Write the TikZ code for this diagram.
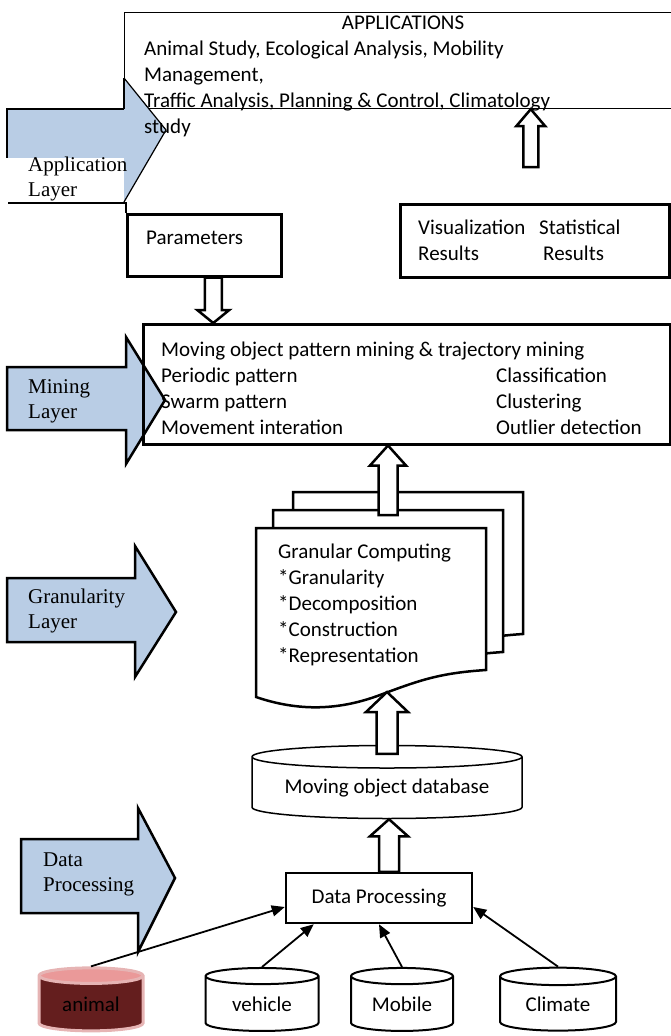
\documentclass[tikz,border=0pt]{standalone}
\usepackage{fontspec}
\setmainfont{Carlito}
\newfontfamily\timesfont{Liberation Serif}
\usetikzlibrary{shapes.geometric, arrows.meta, calc}
\definecolor{layerblue}{HTML}{B9CDE5}
\definecolor{animalred}{HTML}{641E1E}
\definecolor{animalpink}{HTML}{E6B4B4}
\tikzstyle{box} = [rectangle, draw=black, line width=2.5pt, inner sep=0pt, font=\fontsize{21}{26}\selectfont]
\tikzstyle{appbox} = [rectangle, draw=black, line width=1.2pt, inner sep=0pt, anchor=north west]
\tikzstyle{txt} = [anchor=base west, inner sep=0pt, align=left, font=\fontsize{21}{26}\selectfont]
\tikzstyle{laytxt} = [anchor=base west, inner sep=0pt, align=left, font=\timesfont\fontsize{21}{25}\selectfont]
\tikzstyle{layer} = [draw=black, line width=2.5pt, fill=layerblue]
\tikzstyle{page} = [draw=black, line width=2.5pt, fill=white]
\tikzstyle{fat} = [draw=black, line width=2.5pt, fill=white]
\tikzstyle{drum} = [cylinder, shape border rotate=90, draw=black, line width=2pt, fill=white, aspect=0.27, minimum height=63pt, inner sep=0pt, font=\fontsize{21}{26}\selectfont]
\tikzstyle{arrow} = [line width=1.8pt, -{Triangle[length=13pt, width=11pt]}]
% hollow block arrow: tail, tip, half shaft, half head, head length
\newcommand{\fatarrow}[5]{%
  \coordinate (fa-b) at ($(#2)!#5!(#1)$);
  \draw[fat] ($(#1)!#3!90:(#2)$) -- ($(fa-b)!#3!90:(#2)$) -- ($(fa-b)!#4!90:(#2)$) -- (#2)
    -- ($(fa-b)!#4!-90:(#2)$) -- ($(fa-b)!#3!-90:(#2)$) -- ($(#1)!#3!-90:(#2)$) -- cycle;
}

\begin{document}
\begin{tikzpicture}[x=1pt, y=1pt]
\useasboundingbox (0,0) rectangle (670,-1036);

% application layer
\node (apps) [appbox, minimum width=556pt, minimum height=96pt] at (124,-12) {};
\fill[layerblue] (7,-109) -- (124,-109) -- (124,-78) -- (166,-130) -- (124,-202) -- (124,-172) -- (7,-172) -- cycle;
\draw[line width=1.2pt] (7,-172) -- (7,-109) -- (124,-109);
\draw[line width=2.5pt] (124,-109) -- (124,-78);
\draw[line width=1.2pt] (124,-78) -- (166,-130) -- (124,-202);
\fill[white] (6,-158) rectangle (124,-200);
\node (applbl) [laytxt] at (28,-196) {Application\\Layer};
\node (apptitle) [txt, anchor=base] at (403,-29) {APPLICATIONS};
\node (applist) [txt] at (144,-133) {Animal Study, Ecological Analysis, Mobility\\Management,\\Traffic Analysis, Planning \& Control, Climatology\\study};

\node (params) [box, anchor=north west, minimum width=154pt, minimum height=62pt] at (126,-213) {};
\node (partxt) [txt] at ([xshift=20pt,yshift=-31pt]params.north west) {Parameters};
\draw[line width=2.5pt] (8,-203) -| (params.north west);

\node (vis) [box, anchor=north west, minimum width=269pt, minimum height=73pt] at (399,-203) {};
\node (vistxt) [txt] at ([xshift=19pt,yshift=-57pt]vis.north west) {Visualization\\Results};
\node (stattxt) [txt] at ([xshift=140pt,yshift=-57pt]vis.north west) {Statistical\\\hspace{4pt}Results};

% mining layer
\draw[layer] (7,-367) -- (126,-367) -- (126,-337) -- (165,-400) -- (126,-464) -- (126,-430) -- (7,-430) -- cycle;
\node (minelbl) [laytxt] at (28,-418) {Mining\\Layer};
\node (mining) [box, anchor=north west, minimum width=527pt, minimum height=120pt] at (142,-323) {};
\node (minetxt) [txt] at ([xshift=19pt,yshift=-111pt]mining.north west) {Moving object pattern mining \& trajectory mining\\Periodic pattern\\Swarm pattern\\Movement interation};
\node (methtxt) [txt] at ([xshift=354pt,yshift=-111pt]mining.north west) {Classification\\Clustering\\Outlier detection};

% granularity layer
\draw[layer] (7,-578) -- (135,-578) -- (135,-546) -- (176,-612) -- (135,-677) -- (135,-642) -- (7,-642) -- cycle;
\node (granlbl) [laytxt] at (28,-628) {Granularity\\Layer};
\foreach \dx/\dy in {37/36, 17/18, 0/0}
  \draw[page, shift={(\dx,\dy)}] (256,-528) -- (486,-528) -- (486,-670) .. controls (440,-673) and (420,-680) .. (380,-695) .. controls (340,-710) and (300,-712) .. (256,-697) -- cycle;
\node (gran) [txt] at (278,-662) {Granular Computing\\*Granularity\\*Decomposition\\*Construction\\*Representation};
\coordinate (doctop) at (388,-515);
\coordinate (docbot) at (388,-692);

% database and data processing
\node (db) [drum, line width=1.5pt, minimum width=270pt, minimum height=73pt, aspect=0.11] at (387,-788) {Moving object database};
\node (dp) [box, minimum width=186pt, minimum height=50pt] at (379,-898) {Data Processing};
\draw[layer] (21,-839) -- (138,-839) -- (138,-808) -- (175,-878) -- (138,-952) -- (138,-913) -- (21,-913) -- cycle;
\node (dplbl) [laytxt] at (43,-891) {Data\\Processing};

\node (animal) [drum, draw=animalpink, line width=3pt, fill=none, minimum width=104pt, cylinder uses custom fill, cylinder body fill=animalred, cylinder end fill=animalpink!85!red] at (91,-1004) {animal};
\node (vehicle) [drum, minimum width=113pt] at (262,-1004) {vehicle};
\node (mobile) [drum, minimum width=102pt] at (402,-1004) {Mobile};
\node (climate) [drum, minimum width=116pt] at (558,-1004) {Climate};

% hollow arrows
\coordinate (v1) at ([xshift=-4pt,yshift=36pt]vis.north);
\coordinate (a1) at (apps.south -| v1);
\fatarrow{v1}{a1}{7.5pt}{14.5pt}{17pt}
\coordinate (p1) at ([xshift=9pt]params.south);
\coordinate (p2) at (mining.north -| p1);
\fatarrow{p1}{p2}{8.5pt}{16pt}{13pt}
\coordinate (m1) at (mining.south -| doctop);
\fatarrow{doctop}{m1}{9.5pt}{18pt}{20pt}
\coordinate (d1) at ([yshift=-9pt]db.north);
\coordinate (d2) at (docbot -| d1);
\fatarrow{d1}{d2}{10.5pt}{21pt}{20pt}
\coordinate (e1) at ([xshift=10pt]dp.north);
\coordinate (e2) at (db.south -| e1);
\fatarrow{e1}{e2}{10pt}{19pt}{17pt}

% sources into data processing
\draw [arrow] (animal.top) -- ([yshift=-9pt]dp.west);
\draw [arrow] (vehicle.top) -- ([xshift=29pt]dp.south west);
\draw [arrow] (mobile.top) -- (dp.south);
\draw [arrow] (climate.top) -- ([yshift=-9pt]dp.east);
\end{tikzpicture}
\end{document}
